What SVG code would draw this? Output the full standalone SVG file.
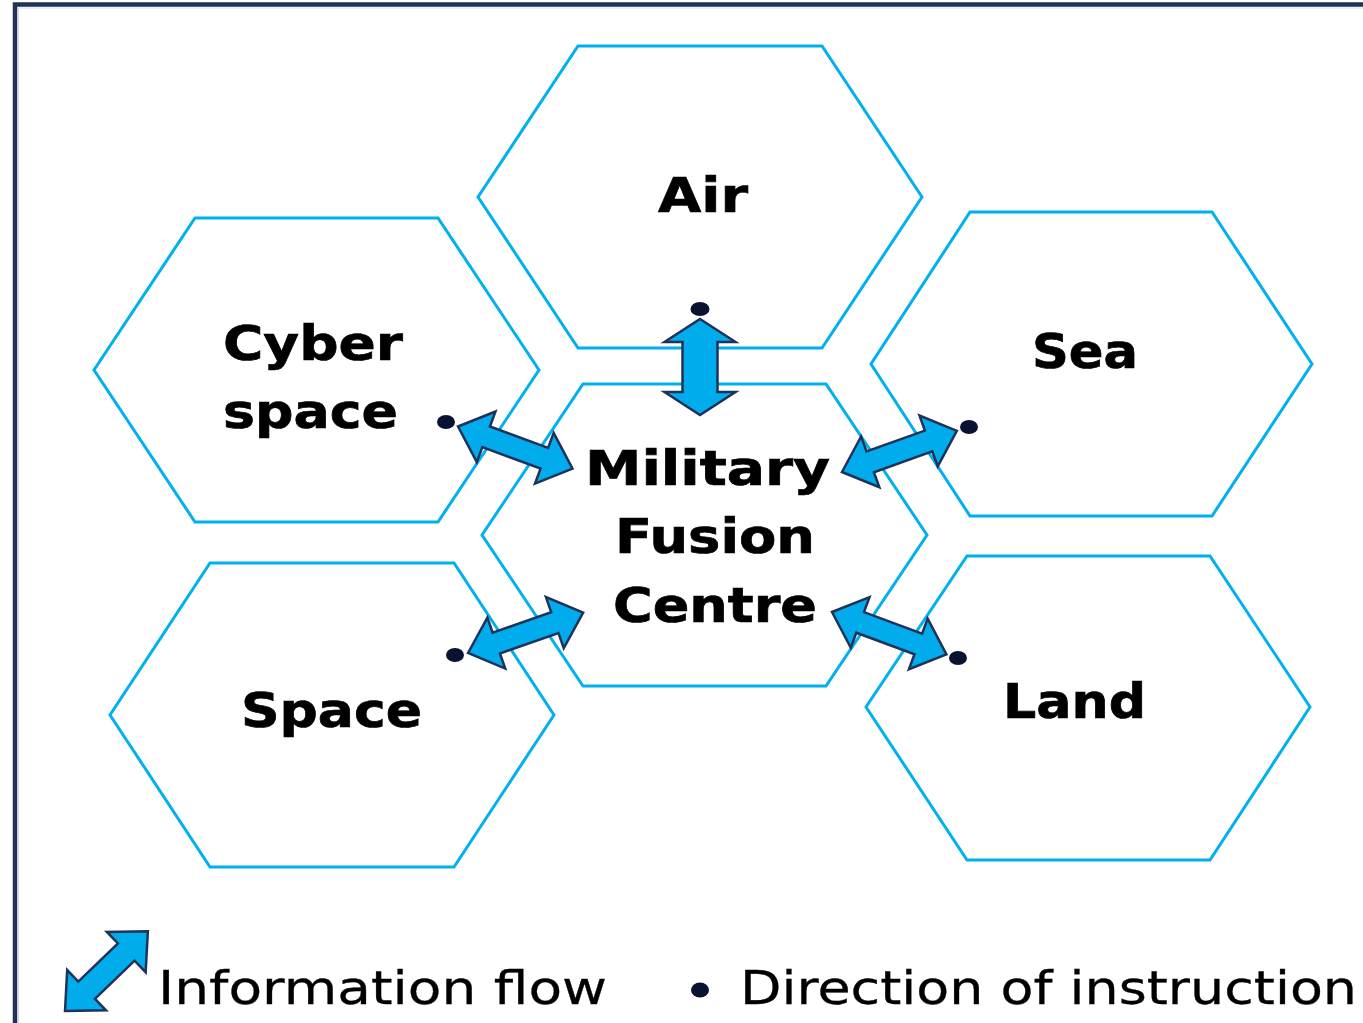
<svg xmlns="http://www.w3.org/2000/svg" width="1363" height="1023" viewBox="0 0 1363 1023">
<style>
.hex{fill:#ffffff;stroke:#00b0f0;stroke-width:3;stroke-linejoin:miter}
.lbl{font-family:"DejaVu Sans","Verdana",sans-serif;font-weight:bold;font-size:48px;fill:#000000;stroke:#000000;stroke-width:0.7}
.leg{font-family:"DejaVu Sans","Verdana",sans-serif;font-size:46px;fill:#000000;stroke:#000000;stroke-width:0.3}
.arr{fill:#00acec;stroke:#1f3258;stroke-width:2.5;stroke-linejoin:miter}
.dot{fill:#0a1232}
</style>
<defs>
<path id="darrow" d="M0,0 L30,-27 L30,-11 L92,-11 L92,-27 L122,0 L92,27 L92,11 L30,11 L30,27 Z"/>
<path id="varrow" d="M0,0 L23,-35.5 L23,-17.5 L73,-17.5 L73,-35.5 L96,0 L73,35.5 L73,17.5 L23,17.5 L23,35.5 Z"/>
<path id="larrow" d="M0,0 L30,-28 L30,-12 L85,-12 L85,-28 L115,0 L85,28 L85,12 L30,12 L30,28 Z"/>
</defs>
<rect x="0" y="0" width="1363" height="1023" fill="#ffffff"/>
<g id="frame">
<polyline points="15,1023 15,4.5 1363,4.5" fill="none" stroke="#1f3258" stroke-width="4.5"/>
<polyline points="18.5,1023 18.5,8 1363,8" fill="none" stroke="#d6dbe3" stroke-width="1"/>
</g>
<g id="node-air">
<polygon class="hex" points="578,46 822,46 922,197 822,348 578,348 478,197"/>
<text class="lbl" x="658" y="212" textLength="90" lengthAdjust="spacingAndGlyphs">Air</text>
</g>
<g id="node-cyber">
<polygon class="hex" points="195,218 438,218 539,370 438,522 195,522 94,370"/>
<text class="lbl" x="223" y="360" textLength="180" lengthAdjust="spacingAndGlyphs">Cyber</text>
<text class="lbl" x="223" y="428" textLength="175" lengthAdjust="spacingAndGlyphs">space</text>
</g>
<g id="node-sea">
<polygon class="hex" points="970,212 1212,212 1312,364 1212,516 970,516 871,364"/>
<text class="lbl" x="1032" y="368" textLength="106" lengthAdjust="spacingAndGlyphs">Sea</text>
</g>
<g id="node-centre">
<polygon class="hex" points="583,384 826,384 927,535 826,686 583,686 482,535"/>
<text class="lbl" x="585" y="485" textLength="245" lengthAdjust="spacingAndGlyphs">Military</text>
<text class="lbl" x="615" y="553" textLength="200" lengthAdjust="spacingAndGlyphs">Fusion</text>
<text class="lbl" x="613" y="622" textLength="204" lengthAdjust="spacingAndGlyphs">Centre</text>
</g>
<g id="node-space">
<polygon class="hex" points="210,563 454,563 554,715 454,867 210,867 110,715"/>
<text class="lbl" x="241" y="727" textLength="181" lengthAdjust="spacingAndGlyphs">Space</text>
</g>
<g id="node-land">
<polygon class="hex" points="967,556 1210,556 1310,707 1210,860 967,860 866,707"/>
<text class="lbl" x="1003" y="718" textLength="143" lengthAdjust="spacingAndGlyphs">Land</text>
</g>
<g id="connectors">
<use href="#varrow" class="arr" transform="translate(700,319) rotate(90)"/>
<use href="#darrow" class="arr" transform="translate(458,426.5) rotate(20.2)"/>
<use href="#darrow" class="arr" transform="translate(842,472) rotate(-19.75)"/>
<use href="#darrow" class="arr" transform="translate(468,653) rotate(-19.3)"/>
<use href="#darrow" class="arr" transform="translate(832,612) rotate(20.3)"/>
<ellipse class="dot" cx="700" cy="309" rx="9.5" ry="7"/>
<ellipse class="dot" cx="446" cy="422" rx="9" ry="7"/>
<ellipse class="dot" cx="969" cy="427" rx="9" ry="7"/>
<ellipse class="dot" cx="455" cy="655" rx="9" ry="7"/>
<ellipse class="dot" cx="958" cy="658" rx="9" ry="7"/>
</g>
<g id="legend">
<use href="#larrow" class="arr" transform="translate(65,1011) rotate(-43.9)"/>
<text class="leg" x="158" y="1004" textLength="449" lengthAdjust="spacingAndGlyphs">Information flow</text>
<ellipse class="dot" cx="700" cy="990" rx="9" ry="7.5"/>
<text class="leg" x="740" y="1004" textLength="617" lengthAdjust="spacingAndGlyphs">Direction of instruction</text>
</g>
</svg>
